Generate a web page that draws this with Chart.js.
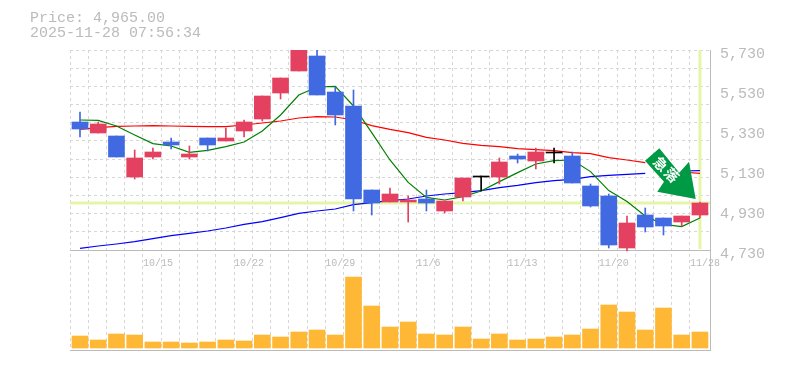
<!DOCTYPE html>
<html>
<head>
<meta charset="utf-8">
<style>html,body{margin:0;padding:0;background:#fff}canvas{display:block}</style>
<script src="https://cdn.jsdelivr.net/npm/chart.js@4"></script>
</head>
<body>
<canvas id="c" width="785" height="370"></canvas>
<script>
const dates = ['10/8','10/9','10/10','10/14','10/15','10/16','10/17','10/20','10/21','10/22','10/23','10/24','10/27','10/28','10/29','10/30','10/31','11/4','11/5','11/6','11/7','11/10','11/11','11/12','11/13','11/14','11/17','11/18','11/19','11/20','11/21','11/25','11/26','11/27','11/28'];
const labelledDates = ['10/15','10/22','10/29','11/6','11/13','11/20','11/28'];
const open  = [5370,5315,5300,5095,5195,5270,5195,5290,5275,5325,5385,5515,5625,5700,5520,5450,5030,4970,4970,4985,4925,4995,5100,5095,5200,5175,5220,5200,5050,5000,4740,4905,4890,4870,4905];
const close = [5335,5360,5195,5190,5220,5255,5210,5255,5290,5370,5500,5590,5730,5505,5405,4985,4965,5010,4980,4965,4975,5090,5095,5170,5185,5220,5215,5065,4950,4755,4865,4845,4850,4900,4965];
const high  = [5420,5370,5300,5230,5240,5290,5250,5290,5340,5380,5500,5590,5730,5730,5545,5530,5030,5040,5000,5030,4975,5090,5100,5190,5210,5240,5240,5220,5060,5010,4900,4940,4890,4900,4970];
const low   = [5295,5315,5195,5085,5185,5235,5185,5225,5275,5295,5375,5485,5625,5505,5355,4925,4905,4970,4870,4925,4915,4975,5025,5060,5165,5135,5165,5065,4945,4740,4725,4820,4805,4850,4890];
const maShort = [5380,5378,5350,5305,5262,5250,5218,5228,5247,5270,5325,5405,5505,5545,5548,5450,5317,5180,5068,4993,4980,4997,5025,5072,5117,5160,5177,5180,5122,5027,4972,4900,4858,4847,4890];
const maMid   = [5333,5342,5348,5350,5352,5350,5348,5347,5347,5355,5365,5375,5390,5397,5395,5380,5352,5333,5317,5293,5280,5263,5253,5247,5237,5232,5227,5217,5212,5192,5180,5167,null,5120,5113];
const maLong  = [4738,4750,4760,4772,4787,4802,4813,4825,4840,4858,4872,4892,4913,4925,4935,4957,4967,4977,4985,5000,5010,5017,5027,5042,5053,5067,5077,5083,5097,5103,5108,5113,null,5125,5127];
const volume  = [12,8,14,13,6,6,5,6,8,7,13,11,16,18,13,71,42,21,26,14,13,21,9,14,8,9,11,13,19,43,36,18,40,13,16];
const priceLabels = [5730,5530,5330,5130,4930,4730];
const priceGrid = [5730,5639.1,5548.2,5457.3,5366.4,5275.5,5184.5,5093.6,5002.7,4911.8,4820.9,4730];
const lastPrice = 4965;
const titleLines = ['Price: 4,965.00','2025-11-28 07:56:34'];
const stickerText = ['急','落'];

const RED='#e4405f', BLUE='#4169e1', BLACK='#000000', ORANGE='#ffb835', PALE='#e4f5a8', GREY='#bbbbbb', GRID='#d6d6d6';
const MONO='"Liberation Mono"';
const C=0.548, XMAX=35.1;
const xs=dates.map((_,i)=>i+C);
const colorOf=i=>Math.abs(open[i]-close[i])<=5?BLACK:(close[i]>open[i]?RED:BLUE);
const series=a=>a.map((v,i)=>({x:xs[i],y:v}));
const line=(a,color,w,order)=>({type:'line',data:a,borderColor:color,borderWidth:w,pointRadius:0,tension:0,order,yAxisID:'y',spanGaps:false});

const decor={id:'decor',afterDraw(ch){
  const g=ch.ctx,a=ch.chartArea;
  g.save();
  g.fillStyle=GREY;g.font='15px '+MONO;g.textBaseline='middle';g.textAlign='left';
  g.fillText(titleLines[0],30,18);g.fillText(titleLines[1],30,33);
  const ox=a.left,oy=a.top;
  const pts=[[589.3,98.3],[575,110.7],[594,131.7],[587.3,141.7],[625.7,149],[619,111.7],[609.3,122.7]];
  g.fillStyle='#009944';g.beginPath();
  pts.forEach((p,i)=>i?g.lineTo(p[0]+ox,p[1]+oy):g.moveTo(p[0]+ox,p[1]+oy));
  g.closePath();g.fill();
  g.fillStyle='#fff';g.font='bold 14px "Noto Sans CJK JP"';g.textAlign='center';
  [[590.7,114],[601.7,125]].forEach((p,i)=>{
    g.save();g.translate(p[0]+ox,p[1]+oy);g.rotate(Math.PI/4);g.fillText(stickerText[i],0,0);g.restore();
  });
  g.restore();
}};

new Chart(document.getElementById('c'),{
  type:'bar',
  data:{datasets:[
    line([{x:0,y:lastPrice},{x:XMAX,y:lastPrice}],PALE,3,20),
    line([{x:xs[34],y:5730},{x:xs[34],y:4735}],PALE,3,20),
    line(series(maLong),'#0000ff',1.2,12),
    line(series(maMid),'#ff0000',1.2,11),
    line(series(maShort),'#008000',1.2,10),
    {type:'bar',data:series(low.map((v,i)=>[v,high[i]])),backgroundColor:xs.map((_,i)=>colorOf(i)),barThickness:1,grouped:false,order:5,yAxisID:'y'},
    {type:'bar',data:series(open.map((v,i)=>[v,close[i]])),backgroundColor:xs.map((_,i)=>colorOf(i)),barThickness:16,grouped:false,order:4,yAxisID:'y'},
    {type:'bar',data:series(volume),backgroundColor:ORANGE,barThickness:16,grouped:false,order:3,yAxisID:'vol'}
  ]},
  options:{
    responsive:false,animation:false,
    layout:{padding:{left:70,top:50,bottom:20,right:0}},
    plugins:{legend:{display:false},tooltip:{enabled:false},title:{display:false}},
    scales:{
      x:{type:'linear',min:0,max:XMAX,offset:false,position:{y:4730},
        afterBuildTicks(s){s.ticks=dates.map((_,i)=>({value:i}));},
        grid:{color:GRID,offset:false,drawTicks:false,tickLength:0,lineWidth:1},
        border:{color:GREY,width:1,dash:[3,3]},
        ticks:{autoSkip:false,maxRotation:0,align:'start',padding:7,color:GREY,font:{family:MONO,size:10},
          callback:v=>labelledDates.includes(dates[v])?dates[v]:''}
      },
      xEdge:{type:'linear',axis:'x',min:0,max:XMAX,position:'bottom',
        afterFit(s){s.height=0;},
        grid:{display:false},ticks:{display:false},border:{color:GREY,width:1}},
      y:{type:'linear',position:'left',min:4230,max:5730,
        afterBuildTicks(s){s.ticks=priceGrid.map(v=>({value:v}));},
        afterFit(s){s.width=0;},
        grid:{color:GRID,drawTicks:false},border:{display:false,dash:[3,3]},ticks:{display:false}},
      yLabels:{type:'linear',position:'right',min:4250,max:5750,
        afterBuildTicks(s){s.ticks=priceLabels.map(v=>({value:v}));},
        afterFit(s){s.width=75;},
        grid:{display:false,drawTicks:false},border:{color:GREY,width:1},
        ticks:{padding:10,color:GREY,font:{family:MONO,size:15},callback:v=>v.toLocaleString('en-US')}},
      vol:{type:'linear',display:false,min:-2,max:298}
    }
  },
  plugins:[decor]
});
</script>
</body>
</html>
